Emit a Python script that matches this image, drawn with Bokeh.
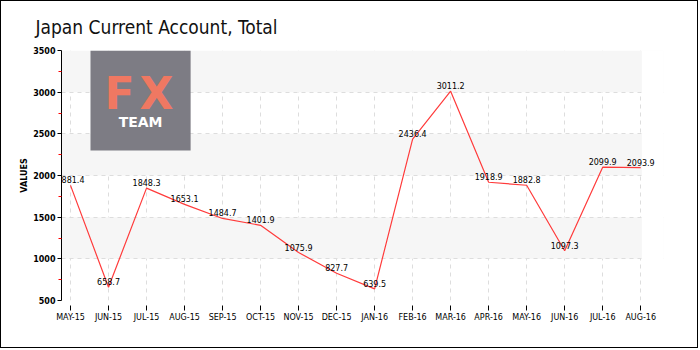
from bokeh.plotting import figure
from bokeh.models import FixedTicker, ColumnDataSource, Label
from bokeh.core.properties import value
from bokeh.embed import file_html
from bokeh.resources import INLINE

months = ["MAY-15", "JUN-15", "JUL-15", "AUG-15", "SEP-15", "OCT-15", "NOV-15", "DEC-15",
          "JAN-16", "FEB-16", "MAR-16", "APR-16", "MAY-16", "JUN-16", "JUL-16", "AUG-16"]
values = [1881.4, 658.7, 1848.3, 1653.1, 1484.7, 1401.9, 1075.9, 827.7,
          639.5, 2436.4, 3011.2, 1918.9, 1882.8, 1097.3, 2099.9, 2093.9]
y_ticks = [500, 1000, 1500, 2000, 2500, 3000, 3500]

idx = list(range(len(months)))
src = ColumnDataSource(dict(x=idx, y=values, lbl=[f"{v:.1f}" for v in values]))

last = len(months) - 1
x_end = last + 0.6  # extra room so the last value label is not clipped

p = figure(width=698, height=348, output_backend="svg", toolbar_location=None,
           x_range=(-0.237, x_end), y_range=(y_ticks[0], y_ticks[-1]),
           min_border_left=60, min_border_right=36, min_border_top=49, min_border_bottom=49,
           title="Japan Current Account, Total")
p.styles = {"border": "1px solid black"}
p.outline_line_color = None
p.background_fill_color = "white"

p.title.text_font = "DejaVu Sans Condensed"
p.title.text_font_size = "19px"
p.title.text_font_style = "normal"
p.title.text_color = "#111111"
p.title.offset = -26
p.title.standoff = 25

# logo watermark
logo = dict(left=0.526, right=3.16, bottom=2300, top=3500)
p.quad(left=[logo["left"]], right=[logo["right"]], bottom=[logo["bottom"]], top=[logo["top"]],
       fill_color="#7d7c84", line_color=None)
cx = (logo["left"] + logo["right"]) / 2
p.text(x=[1.29, 2.26], y=[2984, 2984], text=["F", "X"], text_font=value("DejaVu Sans"),
       text_font_size="44px", text_font_style="bold", text_color="#ef7862",
       text_align="center", text_baseline="middle")
p.text(x=[cx], y=[2648], text=["TEAM"], text_font=value("DejaVu Sans"), text_font_size="14px",
       text_font_style="bold", text_color="white", text_align="center", text_baseline="middle")

# white cover hiding the grid beyond the last category
p.quad(left=[last + 0.03], right=[x_end + 1], bottom=[y_ticks[0] - 100], top=[y_ticks[-1] + 100],
       fill_color="white", line_color=None)

p.line("x", "y", source=src, line_color="#ff3b3b", line_width=1.2)
for xi, yi, li in zip(src.data["x"], src.data["y"], src.data["lbl"]):
    p.add_layout(Label(x=xi, y=yi, text=li, text_font="DejaVu Sans", text_font_size="8px",
                       text_color="black", text_align="center", text_baseline="bottom",
                       y_offset=2))

# grids
p.xgrid.ticker = FixedTicker(ticks=idx)
p.ygrid.ticker = FixedTicker(ticks=y_ticks)
for g in (p.xgrid, p.ygrid):
    g.grid_line_color = "#dddddd"
    g.grid_line_dash = "4 4"
    g.grid_line_width = 1
p.ygrid.band_fill_color = "#f6f6f6"
p.ygrid.band_fill_alpha = 1.0

# x axis
p.xaxis.ticker = FixedTicker(ticks=idx)
p.xaxis.major_label_overrides = {i: m for i, m in enumerate(months)}
p.xaxis.axis_line_color = None
p.xaxis.major_tick_in = -5
p.xaxis.major_tick_out = 10
p.xaxis.major_tick_line_color = "black"
p.xaxis.minor_tick_line_color = None
p.xaxis.major_label_standoff = 2
p.xaxis.major_label_text_font = "DejaVu Sans"
p.xaxis.major_label_text_font_size = "8px"
p.xaxis.major_label_text_color = "black"

# y axis
p.yaxis.ticker = FixedTicker(ticks=y_ticks, minor_ticks=[750, 1250, 1750, 2250, 2750, 3250])
p.yaxis.axis_label = "VALUES"
p.yaxis.axis_label_text_font = "DejaVu Sans"
p.yaxis.axis_label_text_font_size = "8px"
p.yaxis.axis_label_text_font_style = "bold"
p.yaxis.axis_label_text_color = "black"
p.yaxis.axis_label_standoff = 1
p.yaxis.axis_line_color = "black"
p.yaxis.major_tick_in = 0
p.yaxis.major_tick_out = 4
p.yaxis.major_tick_line_color = "black"
p.yaxis.minor_tick_in = 0
p.yaxis.minor_tick_out = 3
p.yaxis.minor_tick_line_color = "red"
p.yaxis.major_label_standoff = 2
p.yaxis.major_label_text_font = "DejaVu Sans"
p.yaxis.major_label_text_font_size = "8px"
p.yaxis.major_label_text_font_style = "bold"
p.yaxis.major_label_text_color = "black"

open("out.html", "w").write(file_html(p, INLINE))
